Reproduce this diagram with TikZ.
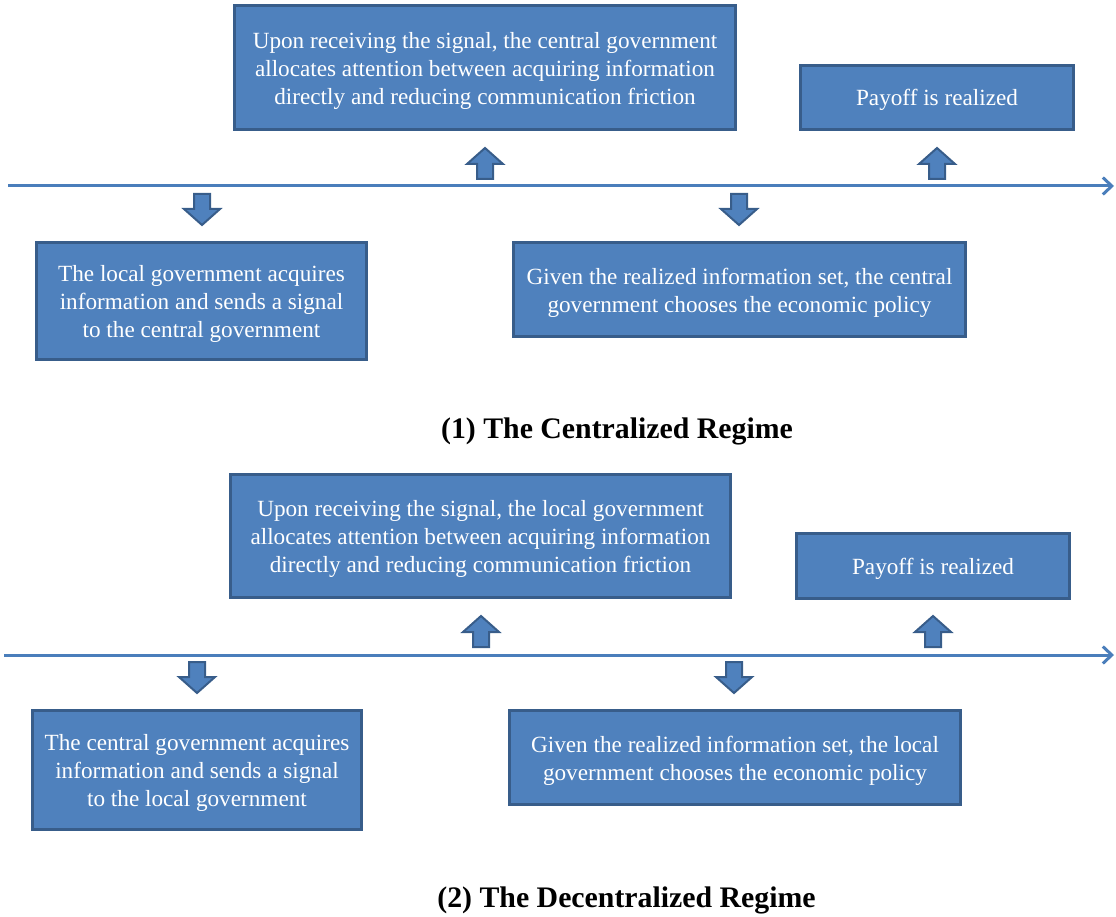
\documentclass[tikz,border=0pt]{standalone}
\usepackage{fontspec}
\setmainfont{Liberation Serif}
\usetikzlibrary{arrows.meta}
\definecolor{boxfill}{HTML}{4F81BD}
\definecolor{boxline}{HTML}{385D8A}
\definecolor{tline}{HTML}{4A7EBB}
\tikzset{
  box/.style={draw=boxline, fill=boxfill, line width=3pt, rectangle, inner sep=0pt},
  boxtext/.style={inner sep=0pt, text=white, align=center, font=\fontsize{23.2}{28}\selectfont},
  ttl/.style={inner sep=0pt, font=\bfseries\fontsize{29.8}{34}\selectfont},
  timeline/.style={draw=tline, line width=3pt, -{Straight Barb[length=9pt,width=17pt,line width=3pt]}},
  uparr/.pic={\draw[boxline, fill=boxfill, line width=2pt, line join=miter]
     (0,0) -- (18,16) -- (8,16) -- (8,31) -- (-8,31) -- (-8,16) -- (-18,16) -- cycle;},
  dnarr/.pic={\draw[boxline, fill=boxfill, line width=2pt, line join=miter]
     (0,0) -- (18,-16) -- (8,-16) -- (8,-31) -- (-8,-31) -- (-8,-16) -- (-18,-16) -- cycle;}
}
\begin{document}
\begin{tikzpicture}[x=1pt,y=-1pt]
\useasboundingbox (0,0) rectangle (1116,917);
% ---------- Panel 1 ----------
\coordinate (s1) at (8,186);
\coordinate (e1) at (1114,186);
\draw[timeline] (s1) -- (e1);
\node[box, minimum width=501, minimum height=124] (a1) at (485,67.5) {};
\node[boxtext] (a1t) at ([yshift=-3pt]a1.center)
  {Upon receiving the signal, the central government\\allocates attention between acquiring information\\directly and reducing communication friction};
\node[box, minimum width=273, minimum height=64] (p1) at (937,97.5) {};
\node[boxtext] (p1t) at ([yshift=-2.5pt]p1.center) {Payoff is realized};
\node[box, minimum width=330, minimum height=117] (l1) at (201.5,301) {};
\node[boxtext] (l1t) at ([yshift=-3pt]l1.center)
  {The local government acquires\\information and sends a signal\\to the central government};
\node[box, minimum width=452, minimum height=94] (c1) at (739.5,289.5) {};
\node[boxtext] (c1t) at ([yshift=-3pt]c1.center)
  {Given the realized information set, the central\\government chooses the economic policy};
\pic at (485,148) {uparr};
\pic at (937,148) {uparr};
\pic at (202,225) {dnarr};
\pic at (739,225) {dnarr};
\node[ttl] (t1) at (617,431) {(1) The Centralized Regime};
% ---------- Panel 2 ----------
\coordinate (s2) at (4,655);
\coordinate (e2) at (1114,655);
\draw[timeline] (s2) -- (e2);
\node[box, minimum width=500, minimum height=123] (a2) at (480.5,536) {};
\node[boxtext] (a2t) at ([yshift=-3pt]a2.center)
  {Upon receiving the signal, the local government\\allocates attention between acquiring information\\directly and reducing communication friction};
\node[box, minimum width=273, minimum height=65] (p2) at (933,566) {};
\node[boxtext] (p2t) at ([yshift=-2.5pt]p2.center) {Payoff is realized};
\node[box, minimum width=329, minimum height=119] (l2) at (197,770) {};
\node[boxtext] (l2t) at ([yshift=-3pt]l2.center)
  {The central government acquires\\information and sends a signal\\to the local government};
\node[box, minimum width=451, minimum height=94] (c2) at (735,757.5) {};
\node[boxtext] (c2t) at ([yshift=-3pt]c2.center)
  {Given the realized information set, the local\\government chooses the economic policy};
\pic at (481,616) {uparr};
\pic at (933,616) {uparr};
\pic at (197,693) {dnarr};
\pic at (734,693) {dnarr};
\node[ttl] (t2) at (626.5,900) {(2) The Decentralized Regime};
\end{tikzpicture}
\end{document}
